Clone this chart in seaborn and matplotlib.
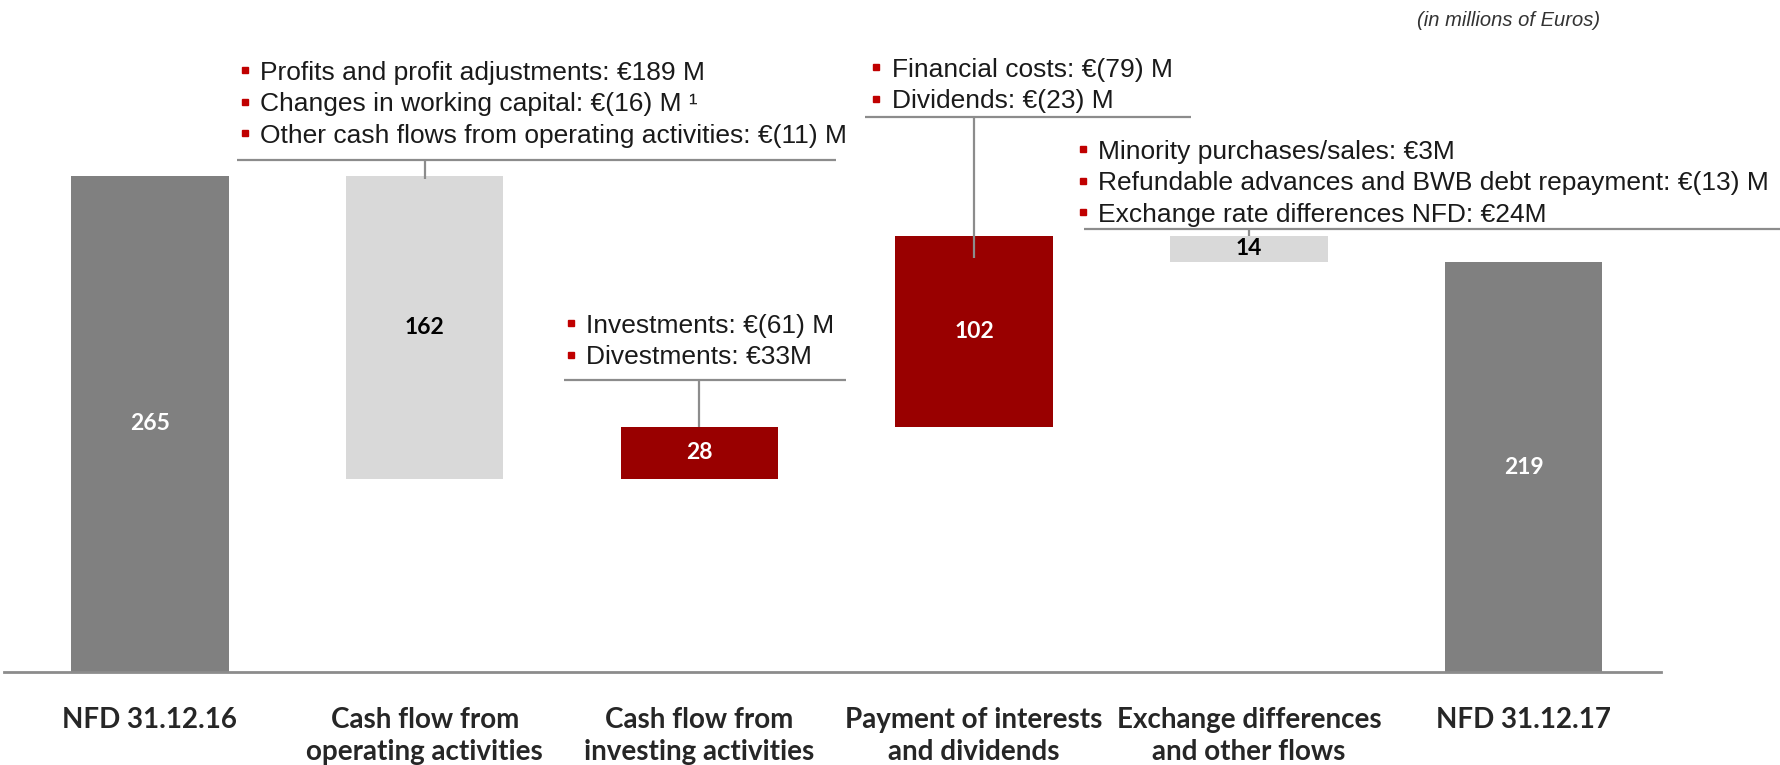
#! /usr/bin/env python3
# -*- coding: utf-8 -*-

import numpy as np
import pandas as pd
import matplotlib
matplotlib.use('Agg')
import matplotlib.pyplot as plt
import seaborn as sns


#Net financial debt bridge (in millions of Euros)
categories = ['NFD 31.12.16', 'Cash flow from\noperating activities', 'Cash flow from\ninvesting activities',
              'Payment of interests\nand dividends', 'Exchange differences\nand other flows', 'NFD 31.12.17']
start_nfd = 265
end_nfd = 219
flows = [-162, 28, 102, -14]          #change of NFD in each step
bar_labels = ['265', '162', '28', '102', '14', '219']

operating_notes = ['Profits and profit adjustments: €189 M',
                   'Changes in working capital: €(16) M \u00b9',
                   'Other cash flows from operating activities: €(11) M']
investing_notes = ['Investments: €(61) M',
                   'Divestments: €33M']
payment_notes = ['Financial costs: €(79) M',
                 'Dividends: €(23) M']
exchange_notes = ['Minority purchases/sales: €3M',
                  'Refundable advances and BWB debt repayment: €(13) M',
                  'Exchange rate differences NFD: €24M']

#Styles
bar_colors = ['#808080', '#d9d9d9', '#990000', '#990000', '#d9d9d9', '#808080']
label_colors = ['white', 'black', 'white', 'white', 'black', 'white']
rule_grey = '#8c8c8c'
bullet_red = '#c00000'
note_font = 'Liberation Sans'
bold_font = 'Lato'
row_step = 16.8


def waterfall_levels(start, flows, end):
    '''Bottom and top of every bar
    '''
    bottoms = [0]
    tops = [start]
    level = start
    for f in flows:
        new = level + f
        bottoms.append(min(level, new))
        tops.append(max(level, new))
        level = new
    bottoms.append(0)
    tops.append(end)
    return np.array(bottoms), np.array(tops)


def draw_notes(ax, notes, bar, bar_end, rule_x, rule_y, text_x, first_row):
    '''Bullet list with a rule and a connector to the bar
    '''
    rows = first_row - row_step * np.arange(len(notes))
    for txt, y in zip(notes, rows):
        ax.plot(text_x - 0.056, y, marker='s', ms=5, color=bullet_red, clip_on=False)
        ax.text(text_x, y - 5.1, txt, fontsize=19, family=note_font, color='#1a1a1a',
                ha='left', va='baseline', clip_on=False)
    ax.plot(rule_x, [rule_y, rule_y], color=rule_grey, lw=1.6, clip_on=False, solid_capstyle='butt')
    ax.plot([bar, bar], [rule_y, bar_end], color=rule_grey, lw=1.6, clip_on=False, solid_capstyle='butt')


bottoms, tops = waterfall_levels(start_nfd, flows, end_nfd)
df = pd.DataFrame({'step': categories, 'height': tops - bottoms, 'bottom': bottoms})

sns.set_style('white')
plt.rcParams['font.family'] = [note_font, 'DejaVu Sans']

fig = plt.figure(figsize=(17.8, 7.65), dpi=100)
ax = fig.add_axes([4 / 1780, 93 / 765, 1657 / 1780, 672 / 765])

sns.barplot(data=df, x='step', y='height', bottom=df['bottom'].values, width=0.574,
            color='#808080', saturation=1, errorbar=None, linewidth=0, ax=ax)
for patch, c in zip(ax.patches, bar_colors):
    patch.set_facecolor(c)

#Values in the middle of the bars
for i, (b, t) in enumerate(zip(bottoms, tops)):
    ax.text(i, (b + t) / 2, bar_labels[i], ha='center', va='center', fontsize=16.5,
            family=bold_font, fontweight='bold', color=label_colors[i])

ax.set_xlim(-0.531, 5.5)
ax.set_ylim(0, 359)

#Breakdown of every step
draw_notes(ax, operating_notes, 1, tops[1] - 1.5, [0.318, 2.496], 273.5, 0.401, 321.4)
draw_notes(ax, investing_notes, 2, tops[2], [1.509, 2.533], 155.8, 1.587, 186.4)
draw_notes(ax, payment_notes, 3, tops[3] - 12, [2.603, 3.79], 296.5, 2.70, 323.0)
draw_notes(ax, exchange_notes, 4, tops[4], [3.40, 5.94], 236.5, 3.451, 279.3)

ax.set_xlabel('')
ax.set_ylabel('')
ax.set_yticks([])
ax.set_xticks(range(len(categories)))
ax.set_xticklabels(categories, family=bold_font, fontweight='bold', fontsize=20, linespacing=1.3)
ax.tick_params(axis='x', length=0, pad=25)
for side in ['top', 'left', 'right']:
    ax.spines[side].set_visible(False)
ax.spines['bottom'].set_color(rule_grey)
ax.spines['bottom'].set_linewidth(2)

fig.text(1600 / 1780, 1 - 20 / 765, '(in millions of Euros)', ha='right', va='center',
         style='italic', fontsize=14.5, family=note_font, color='#333333')

fig.savefig('out.png', dpi=100)
plt.close()
